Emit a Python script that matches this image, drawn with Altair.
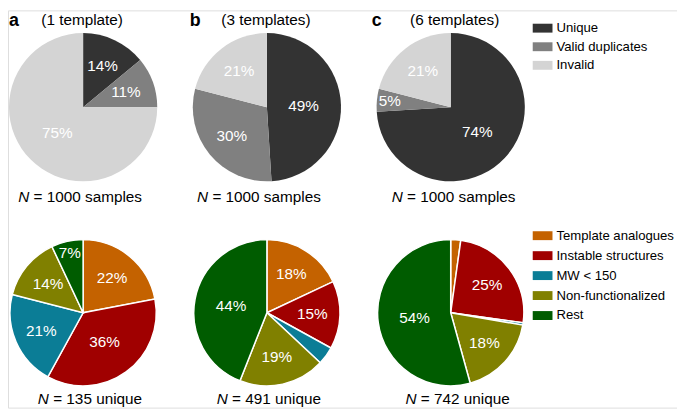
import altair as alt
import pandas as pd

# ---------------- data ----------------
top_categories = ["Unique", "Valid duplicates", "Invalid"]
top_colors = ["#333333", "#808080", "#d4d4d4"]
top_a = [14, 11, 75]
top_b = [49, 30, 21]
top_c = [74, 5, 21]

bottom_categories = ["Template analogues", "Instable structures", "MW < 150",
                     "Non-functionalized", "Rest"]
bottom_colors = ["#c46200", "#a00000", "#0b7d96", "#808000", "#005c00"]
bottom_a = [22, 36, 21, 14, 7]
bottom_b = [18, 15, 4, 19, 44]
bottom_c = [2.2, 25, 0.5, 18, 54.3]

panel_letters = ["a", "b", "c"]
panel_titles = ["(1 template)", "(3 templates)", "(6 templates)"]
top_counts = ["1000 samples", "1000 samples", "1000 samples"]
bottom_counts = ["135 unique", "491 unique", "742 unique"]

# ---------------- layout / style ----------------
FONT = "Liberation Sans"
FS = 15.5
COL_X = [76, 262, 448]
TITLE_DX = [-1, -1, 4]
LETTER_X = [1, 184, 368]
TOP_Y, BOT_Y = 98, 306
TOP_R, BOT_R = 75, 74
TITLE_Y = 10
LETTER_Y = 11
TOP_CAP_Y, BOT_CAP_Y = 189, 393
TOP_CAP_DX = [-3, -8, 3]
BOT_CAP_DX = [7, 2, 7]

# Arial / Liberation Sans advance widths (per 1000 em)
_W = {" ": 278, "=": 584, "N": 722, "a": 556, "s": 500, "m": 833, "p": 556,
      "l": 222, "e": 556, "u": 556, "n": 556, "i": 222, "q": 556}


def text_width(s, size):
    return sum(_W.get(ch, 556) for ch in s) * size / 1000.0


def frame(cats, values):
    return pd.DataFrame({"category": cats, "value": values,
                         "idx": list(range(len(cats)))})


legend_common = dict(
    title=None, orient="none", symbolType="M-1,-0.45H1V0.45H-1Z",
    symbolSize=400, symbolStrokeWidth=0, labelFont=FONT, labelFontSize=13.3,
    labelColor="black", labelOffset=4, padding=0,
)
legend_top = alt.Legend(legendX=531, legendY=8, rowPadding=1.8, **legend_common)
legend_bot = alt.Legend(legendX=531, legendY=218, rowPadding=3.2, **legend_common)

layers = []


def pie(values, cats, cx, cy, radius, top):
    df = frame(cats, values)
    base = alt.Chart(df)
    pos = dict(x=alt.value(cx), y=alt.value(cy))
    if top:
        arc = base.mark_arc(outerRadius=radius).encode(
            theta=alt.Theta("value:Q", stack=True),
            order=alt.Order("idx:Q"),
            color=alt.Color("category:N",
                            scale=alt.Scale(domain=top_categories, range=top_colors),
                            legend=legend_top),
            **pos)
    else:
        arc = base.mark_arc(outerRadius=radius, stroke="white", strokeWidth=1.5).encode(
            theta=alt.Theta("value:Q", stack=True),
            order=alt.Order("idx:Q"),
            fill=alt.Fill("category:N",
                          scale=alt.Scale(domain=bottom_categories, range=bottom_colors),
                          legend=legend_bot),
            **pos)
    txt = base.transform_joinaggregate(
        total="sum(value)"
    ).transform_window(
        cum="sum(value)", sort=[alt.SortField("idx")]
    ).transform_calculate(
        frac="(datum.cum - datum.value / 2) / datum.total",
        label="datum.value >= 5 ? format(datum.value, '.0f') + '%' : ''",
        r="datum.value < 8 ? 62 : (datum.value > 30 ? 37 : 46)",
    ).mark_text(
        font=FONT, fontSize=FS, color="white", align="center", baseline="middle"
    ).encode(
        theta=alt.Theta("frac:Q", stack=False, scale=alt.Scale(domain=[0, 1])),
        radius=alt.Radius("r:Q", scale=None),
        text="label:N", **pos)
    return [arc, txt]


def single_text(s, x, y, **kw):
    return alt.Chart(pd.DataFrame({"t": [s]})).mark_text(
        font=FONT, baseline="middle", color="black", **kw
    ).encode(text="t:N", x=alt.value(x), y=alt.value(y))


def caption(count, cx, cy):
    rest = "= " + count
    total = text_width("N ", FS) + text_width(rest, FS)
    left = cx - total / 2
    anchor = left + text_width("N", FS)
    return [
        single_text("N", anchor, cy, fontSize=FS, fontStyle="italic", align="right"),
        single_text(rest, anchor + text_width(" ", FS), cy, fontSize=FS, align="left"),
    ]


for i, vals in enumerate([top_a, top_b, top_c]):
    layers += pie(vals, top_categories, COL_X[i], TOP_Y, TOP_R, True)
for i, vals in enumerate([bottom_a, bottom_b, bottom_c]):
    layers += pie(vals, bottom_categories, COL_X[i], BOT_Y, BOT_R, False)

for i in range(3):
    layers.append(single_text(panel_letters[i], LETTER_X[i], LETTER_Y,
                              fontSize=18, fontWeight="bold", align="left"))
    layers.append(single_text(panel_titles[i], COL_X[i] + TITLE_DX[i], TITLE_Y,
                              fontSize=FS, align="center"))
    layers += caption(top_counts[i], COL_X[i] + TOP_CAP_DX[i], TOP_CAP_Y)
    layers += caption(bottom_counts[i], COL_X[i] + BOT_CAP_DX[i], BOT_CAP_Y)

chart = alt.layer(*layers).resolve_scale(theta="independent").properties(
    width=677, height=402, padding=0,
    autosize=alt.AutoSizeParams(type="none"),
).configure_view(strokeWidth=0).configure(font=FONT)

chart.save("out.html", embed_options={"renderer": "svg", "actions": False})
